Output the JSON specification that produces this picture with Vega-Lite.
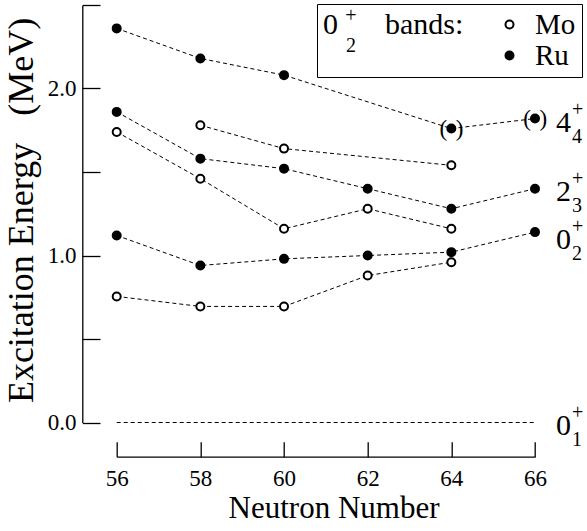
{
  "$schema": "https://vega.github.io/schema/vega-lite/v6.json",
  "width": 418.3,
  "height": 417.5,
  "autosize": {"type": "none"},
  "padding": {"left": 116.7, "top": 5, "right": 52, "bottom": 108.5},
  "background": "white",
  "config": {
    "view": {"stroke": null},
    "font": "Liberation Serif",
    "axis": {
      "domainColor": "black", "tickColor": "black", "domainWidth": 1.3, "tickWidth": 1.3,
      "labelColor": "black", "titleColor": "black",
      "labelFont": "Liberation Serif", "titleFont": "Liberation Serif",
      "labelFontSize": 23, "titleFontSize": 31, "titleFontWeight": "normal",
      "grid": false, "labelFlush": false, "labelOverlap": false
    }
  },
  "datasets": {
    "levels": [
      {"n": 56, "E": 2.36, "nuc": "Ru", "band": "4"},
      {"n": 58, "E": 2.18, "nuc": "Ru", "band": "4"},
      {"n": 60, "E": 2.08, "nuc": "Ru", "band": "4"},
      {"n": 64, "E": 1.76, "nuc": "Ru", "band": "4", "tentative": true},
      {"n": 66, "E": 1.82, "nuc": "Ru", "band": "4", "tentative": true},
      {"n": 58, "E": 1.78, "nuc": "Mo", "band": "4"},
      {"n": 60, "E": 1.64, "nuc": "Mo", "band": "4"},
      {"n": 64, "E": 1.54, "nuc": "Mo", "band": "4"},
      {"n": 56, "E": 1.86, "nuc": "Ru", "band": "2"},
      {"n": 58, "E": 1.58, "nuc": "Ru", "band": "2"},
      {"n": 60, "E": 1.52, "nuc": "Ru", "band": "2"},
      {"n": 62, "E": 1.40, "nuc": "Ru", "band": "2"},
      {"n": 64, "E": 1.28, "nuc": "Ru", "band": "2"},
      {"n": 66, "E": 1.40, "nuc": "Ru", "band": "2"},
      {"n": 56, "E": 1.74, "nuc": "Mo", "band": "2"},
      {"n": 58, "E": 1.46, "nuc": "Mo", "band": "2"},
      {"n": 60, "E": 1.16, "nuc": "Mo", "band": "2"},
      {"n": 62, "E": 1.28, "nuc": "Mo", "band": "2"},
      {"n": 64, "E": 1.16, "nuc": "Mo", "band": "2"},
      {"n": 56, "E": 1.12, "nuc": "Ru", "band": "0"},
      {"n": 58, "E": 0.94, "nuc": "Ru", "band": "0"},
      {"n": 60, "E": 0.98, "nuc": "Ru", "band": "0"},
      {"n": 62, "E": 1.00, "nuc": "Ru", "band": "0"},
      {"n": 64, "E": 1.02, "nuc": "Ru", "band": "0"},
      {"n": 66, "E": 1.14, "nuc": "Ru", "band": "0"},
      {"n": 56, "E": 0.755, "nuc": "Mo", "band": "0"},
      {"n": 58, "E": 0.695, "nuc": "Mo", "band": "0"},
      {"n": 60, "E": 0.695, "nuc": "Mo", "band": "0"},
      {"n": 62, "E": 0.88, "nuc": "Mo", "band": "0"},
      {"n": 64, "E": 0.96, "nuc": "Mo", "band": "0"}
    ],
    "ground": [
      {"n": 56, "E": 0},
      {"n": 66, "E": 0}
    ],
    "states": [
      {"n": 66, "E": 1.796, "main": "4", "sub": "4"},
      {"n": 66, "E": 1.383, "main": "2", "sub": "3"},
      {"n": 66, "E": 1.093, "main": "0", "sub": "2"},
      {"n": 66, "E": -0.018, "main": "0", "sub": "1"}
    ],
    "legendmarks": [
      {"n": 61.6, "E": 2.434, "t": "+"},
      {"n": 61.6, "E": 2.254, "t": "2"}
    ],
    "legendwords": [
      {"n": 62.414, "E": 2.328, "t": "bands:"}
    ]
  },
  "encoding": {
    "x": {
      "field": "n", "type": "quantitative",
      "scale": {"domain": [56, 66], "nice": false, "zero": false},
      "axis": {
        "title": "Neutron Number", "values": [56, 58, 60, 62, 64, 66], "format": "d",
        "offset": 34.2, "tickSize": -15, "labelPadding": 25.8,
        "titleX": 216.8, "titleY": 60.5, "titleBaseline": "alphabetic", "titleAlign": "center"
      }
    },
    "y": {
      "field": "E", "type": "quantitative",
      "scale": {"domain": [0, 2.5], "nice": false, "zero": false},
      "axis": {
        "title": "Excitation Energy\u00a0\u00a0 (MeV)", "values": [0, 0.5, 1, 1.5, 2, 2.5],
        "labelExpr": "datum.value % 1 === 0 ? format(datum.value, '.1f') : ''",
        "offset": 34.4, "tickSize": -17.7, "labelPadding": 24,
        "titleFontSize": 36,
        "titleX": -49.3, "titleY": 205, "titleAngle": -90, "titleBaseline": "alphabetic", "titleAlign": "center"
      }
    }
  },
  "layer": [
    {
      "data": {"name": "ground"},
      "mark": {"type": "line", "stroke": "black", "strokeWidth": 1, "strokeDash": [4, 3]}
    },
    {
      "data": {"name": "levels"},
      "mark": {"type": "line", "stroke": "black", "strokeWidth": 1, "strokeDash": [4, 3]},
      "encoding": {"detail": [{"field": "nuc"}, {"field": "band"}]}
    },
    {
      "data": {"name": "levels"},
      "mark": {"type": "point", "shape": "circle", "filled": true, "size": 64, "stroke": "black", "strokeWidth": 2, "opacity": 1},
      "encoding": {
        "fill": {
          "field": "nuc", "type": "nominal",
          "scale": {"domain": ["Mo", "Ru"], "range": ["white", "black"]},
          "legend": {
            "title": "0",
            "orient": "none", "legendX": 200.3, "legendY": -1,
            "titleOrient": "left", "titleAnchor": "start", "titleBaseline": "top",
            "direction": "vertical",
            "strokeColor": "black", "padding": 6,
            "symbolType": "circle", "symbolSize": 64, "symbolStrokeColor": "black", "symbolStrokeWidth": 2,
            "labelFont": "Liberation Serif", "titleFont": "Liberation Serif",
            "labelFontSize": 29, "titleFontSize": 30, "titleFontWeight": "normal",
            "labelColor": "black", "titleColor": "black",
            "labelExpr": "datum.label + '\u00a0\u00a0'",
            "labelOffset": 11, "rowPadding": 1, "titlePadding": 157
          }
        }
      }
    },
    {
      "data": {"name": "levels"},
      "transform": [{"filter": "datum.tentative === true"}],
      "mark": {"type": "text", "text": "(", "align": "right", "baseline": "middle", "dx": -4.2, "fontSize": 23, "font": "Liberation Serif", "color": "black"}
    },
    {
      "data": {"name": "levels"},
      "transform": [{"filter": "datum.tentative === true"}],
      "mark": {"type": "text", "text": ")", "align": "left", "baseline": "middle", "dx": 4.5, "fontSize": 23, "font": "Liberation Serif", "color": "black"}
    },
    {
      "data": {"name": "states"},
      "mark": {"type": "text", "align": "left", "baseline": "middle", "dx": 21, "fontSize": 30, "font": "Liberation Serif", "color": "black"},
      "encoding": {"text": {"field": "main"}}
    },
    {
      "data": {"name": "states"},
      "mark": {"type": "text", "text": "+", "align": "left", "baseline": "middle", "dx": 37, "dy": -13, "fontSize": 20, "font": "Liberation Serif", "color": "black"}
    },
    {
      "data": {"name": "states"},
      "mark": {"type": "text", "align": "left", "baseline": "middle", "dx": 37, "dy": 14, "fontSize": 20, "font": "Liberation Serif", "color": "black"},
      "encoding": {"text": {"field": "sub"}}
    },
    {
      "data": {"name": "legendmarks"},
      "mark": {"type": "text", "align": "center", "baseline": "middle", "fontSize": 20, "font": "Liberation Serif", "color": "black"},
      "encoding": {"text": {"field": "t"}}
    },
    {
      "data": {"name": "legendwords"},
      "mark": {"type": "text", "align": "left", "baseline": "alphabetic", "fontSize": 30, "font": "Liberation Serif", "color": "black"},
      "encoding": {"text": {"field": "t"}}
    }
  ]
}
